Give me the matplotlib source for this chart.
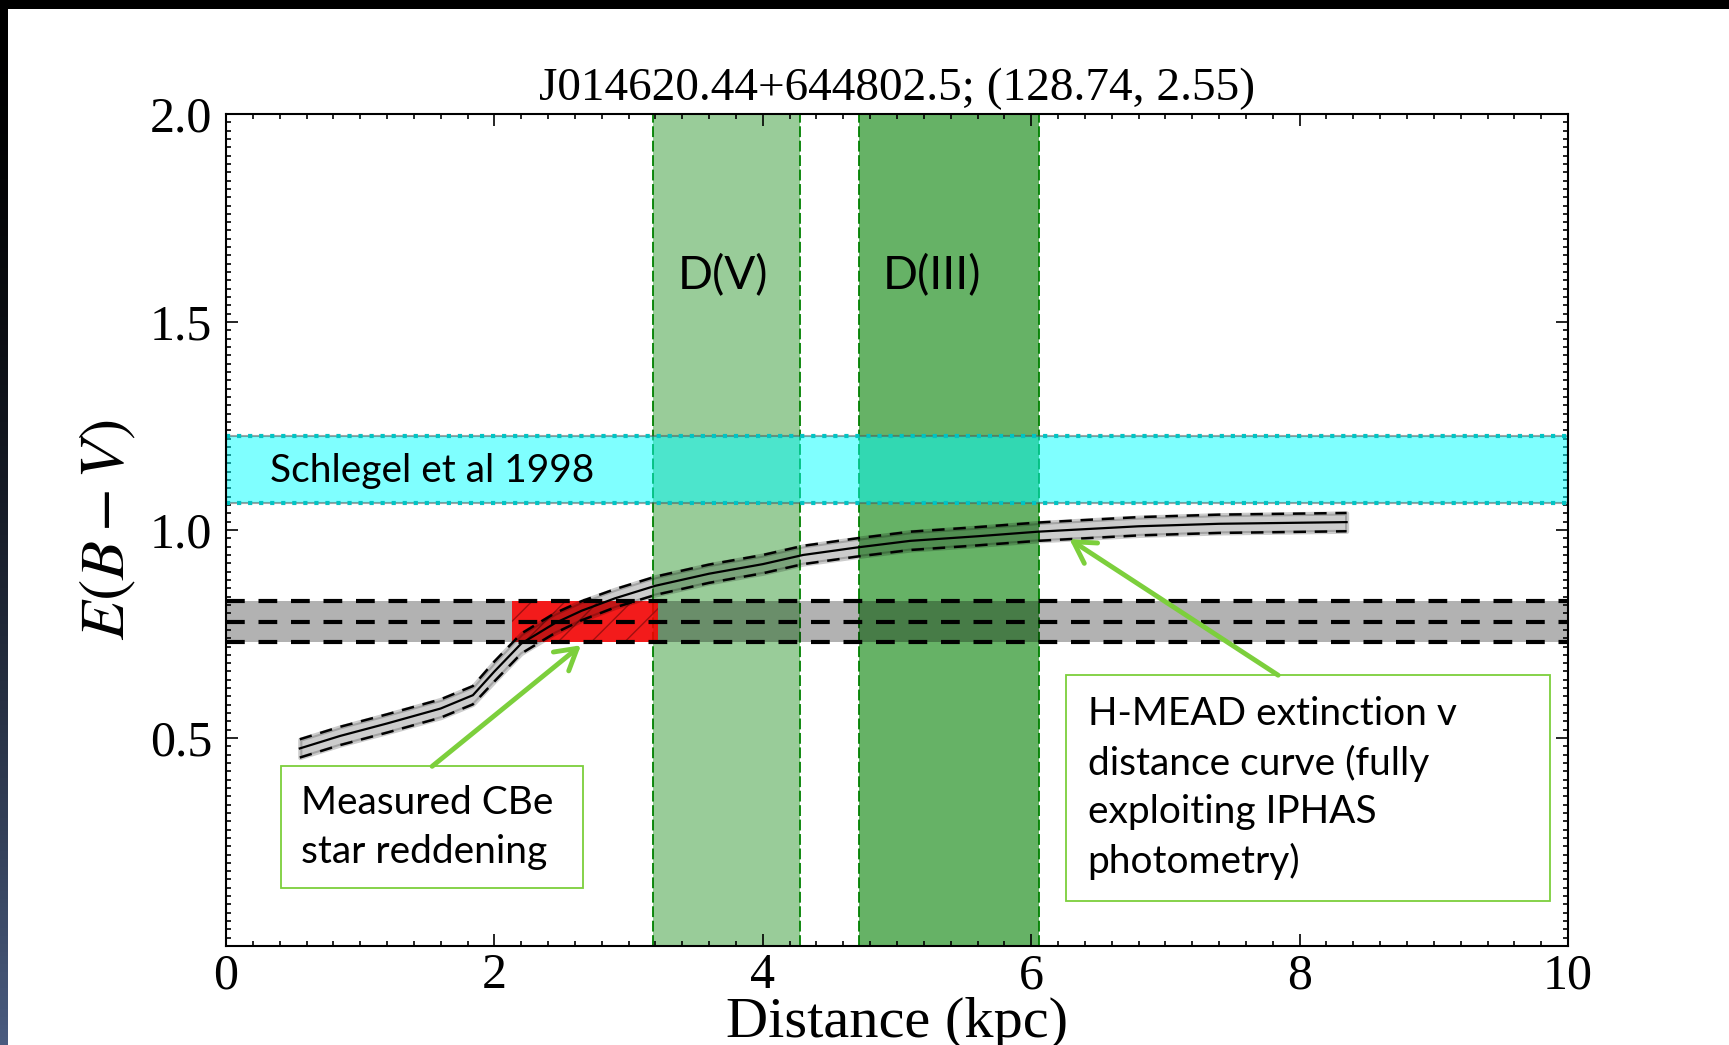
import matplotlib.pyplot as plt
import numpy as np
from matplotlib.patches import Rectangle
from matplotlib.ticker import MultipleLocator

plt.rcParams['mathtext.fontset'] = 'stix'
plt.rcParams['font.family'] = 'Liberation Serif'

# H-MEAD extinction curve
dist = [0.55, 0.85, 1.2, 1.6, 1.84, 2.0, 2.2, 2.45, 2.65, 2.9, 3.2,
        3.6, 4.0, 4.3, 4.7, 5.1, 5.6, 6.05, 6.8, 7.4, 8.35]
ebv = [0.475, 0.505, 0.535, 0.571, 0.603, 0.66, 0.727, 0.776, 0.806, 0.836, 0.866,
       0.895, 0.918, 0.94, 0.958, 0.974, 0.985, 0.996, 1.009, 1.015, 1.019]
ebv_hi = [0.497, 0.527, 0.557, 0.593, 0.625, 0.684, 0.751, 0.8, 0.829, 0.858, 0.888,
          0.917, 0.94, 0.962, 0.98, 0.996, 1.007, 1.018, 1.031, 1.037, 1.041]
ebv_lo = [0.453, 0.483, 0.513, 0.549, 0.581, 0.636, 0.703, 0.752, 0.783, 0.814, 0.844,
          0.873, 0.896, 0.918, 0.936, 0.952, 0.963, 0.974, 0.987, 0.993, 0.997]

# distance ranges for luminosity class V and III (kpc)
d_v = [3.18, 4.28]
d_iii = [4.72, 6.06]
# Schlegel et al 1998 range
schlegel = [1.065, 1.225]
# measured CBe star reddening: low, mid, high
cbe_ebv = [0.73, 0.78, 0.83]
cbe_dist = [2.13, 3.22]

green = '#7ccf3c'
sans = 'Lato'

fig = plt.figure(figsize=(17.29, 10.45), dpi=100)
ax = fig.add_axes([0.1307, 0.0947, 0.7762, 0.7962])

ax.axvspan(d_v[0], d_v[1], color='g', alpha=0.4, lw=0, zorder=1)
ax.axvspan(d_iii[0], d_iii[1], color='g', alpha=0.6, lw=0, zorder=1)
for x in d_v + d_iii:
    ax.axvline(x, color='g', ls='--', lw=1.3, dashes=(6, 2), zorder=1.5)

ax.axhspan(schlegel[0], schlegel[1], facecolor='cyan', alpha=0.5,
           edgecolor='0.3', lw=1.5, zorder=2)
for y in schlegel:
    ax.axhline(y, color='#00c4c4', ls=':', lw=3, zorder=2.1)

ax.axhspan(cbe_ebv[0], cbe_ebv[2], color='k', alpha=0.3, lw=0, zorder=3)
ax.add_patch(Rectangle((cbe_dist[0], cbe_ebv[0]), cbe_dist[1] - cbe_dist[0],
                       cbe_ebv[2] - cbe_ebv[0], facecolor=(1, 0, 0, 0.85),
                       edgecolor='#a01010', lw=0, hatch='/', zorder=3.5))
for y in cbe_ebv:
    ax.axhline(y, color='k', lw=3, dashes=(4.5, 3.3), zorder=3.6)

ax.fill_between(dist, ebv_lo, ebv_hi, color='k', alpha=0.2, lw=3, zorder=4)
ax.plot(dist, ebv_hi, 'k--', lw=1.8, dashes=(5, 3.5), zorder=4.5)
ax.plot(dist, ebv_lo, 'k--', lw=1.8, dashes=(5, 3.5), zorder=4.5)
ax.plot(dist, ebv, 'k-', lw=1.6, zorder=4.6)

ax.text(3.70, 1.611, 'D(V)', family=sans, fontsize=33, ha='center', va='center')
ax.text(5.264, 1.611, 'D(III)', family=sans, fontsize=33, ha='center', va='center')
ax.text(0.33, 1.142, 'Schlegel et al 1998', family=sans, fontsize=28,
        ha='left', va='center', zorder=6)

# annotation boxes
ax.add_patch(Rectangle((0.41, 0.139), 2.25, 0.294, facecolor='white',
                       edgecolor=green, lw=1.3, zorder=6))
ax.text(0.558, 0.285, 'Measured CBe\nstar reddening', family=sans, fontsize=28,
        ha='left', va='center', linespacing=1.42, zorder=7)
ax.add_patch(Rectangle((6.262, 0.108), 3.604, 0.543, facecolor='white',
                       edgecolor=green, lw=1.3, zorder=6))
ax.text(6.42, 0.38, 'H-MEAD extinction v\ndistance curve (fully\nexploiting IPHAS\nphotometry)',
        family=sans, fontsize=28, ha='left', va='center', linespacing=1.42, zorder=7)

arrow = dict(arrowstyle='->,head_length=0.6,head_width=0.35', color=green, lw=3.5,
             mutation_scale=25, shrinkA=0, shrinkB=0)
ax.annotate('', xy=(2.645, 0.723), xytext=(1.536, 0.432), arrowprops=arrow, zorder=7)
ax.annotate('', xy=(6.285, 0.978), xytext=(7.84, 0.651), arrowprops=arrow, zorder=7)

ax.set_xlim(0, 10)
ax.set_ylim(0, 2)
ax.set_xticks([0, 2, 4, 6, 8, 10])
ax.set_yticks([0.5, 1.0, 1.5, 2.0])
ax.xaxis.set_minor_locator(MultipleLocator(0.2))
ax.yaxis.set_minor_locator(MultipleLocator(0.02))
ax.tick_params(which='both', direction='in', top=True, right=True, width=1.2)
ax.tick_params(which='major', length=8.5, labelsize=36)
ax.tick_params(which='minor', length=3.6)
ax.tick_params(axis='x', pad=5)
ax.tick_params(axis='y', pad=10)
for s in ax.spines.values():
    s.set_linewidth(1.5)

ax.set_title('J014620.44+644802.5; (128.74, 2.55)', fontsize=34, pad=10)
ax.set_xlabel('Distance (kpc)', fontsize=42, labelpad=-2)
ax.set_ylabel('$E(B-V)$', fontsize=46, labelpad=8)

# slide border: black strip at top, dark gradient at left
fig.add_artist(Rectangle((0, 1 - 9 / 1045), 1, 9 / 1045, transform=fig.transFigure,
                         facecolor='black', lw=0))
grad_ax = fig.add_axes([0, 0, 8 / 1729, 1 - 9 / 1045])
grad_ax.axis('off')
shade = np.linspace(0, 1, 256) ** 1.6
cols = np.array([0.0, 0.0, 0.0])[None, :] * (1 - shade[:, None]) + \
    np.array([0.29, 0.36, 0.50])[None, :] * shade[:, None]
grad_ax.imshow(cols[:, None, :], aspect='auto', extent=[0, 1, 0, 1], origin='upper')

fig.savefig('out.png', dpi=100)
